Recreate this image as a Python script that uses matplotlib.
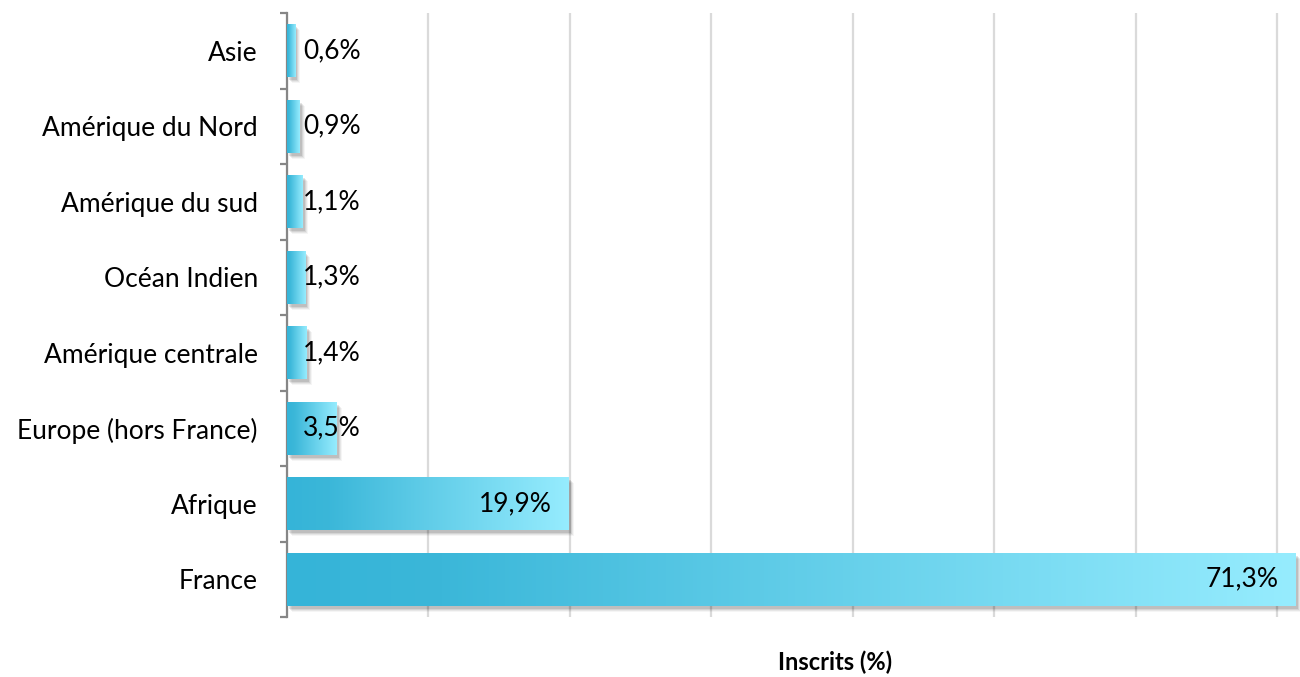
import numpy as np
import matplotlib.pyplot as plt
from matplotlib.colors import LinearSegmentedColormap
from matplotlib.patches import Rectangle
from matplotlib.transforms import ScaledTranslation

# données
regions = ["Asie", "Amérique du Nord", "Amérique du sud", "Océan Indien",
           "Amérique centrale", "Europe (hors France)", "Afrique", "France"]
inscrits = [0.6, 0.9, 1.1, 1.3, 1.4, 3.5, 19.9, 71.3]
labels = ["0,6%", "0,9%", "1,1%", "1,3%", "1,4%", "3,5%", "19,9%", "71,3%"]

plt.rcParams["font.family"] = ["Lato", "DejaVu Sans"]

fig = plt.figure(figsize=(13, 6.77), dpi=100)
ax = fig.add_axes([287 / 1300, 1 - 617 / 677, 1 - 287 / 1300, (617 - 13) / 677])

cmap = LinearSegmentedColormap.from_list(
    "bleu", [(0, "#35b4d8"), (0.15, "#3bb7d9"), (1, "#96ecfe")])
grad = np.linspace(0, 1, 256).reshape(1, -1)
h = 0.70

for i, (v, lab) in enumerate(zip(inscrits, labels)):
    # ombre
    for k, a in enumerate([0.10, 0.08, 0.06, 0.04]):
        off = ScaledTranslation((2 + k) / 100, -(3 + k) / 100, fig.dpi_scale_trans)
        ax.add_patch(Rectangle((0, i - h / 2), v, h, facecolor="black", alpha=a,
                               edgecolor="none", transform=ax.transData + off, zorder=2))
    ax.imshow(grad, cmap=cmap, extent=[0, v, i + h / 2, i - h / 2],
              aspect="auto", zorder=3, interpolation="bilinear")
    if v > 10:
        off = ScaledTranslation(-17 / 100, 0, fig.dpi_scale_trans)
        ax.text(v, i, lab, ha="right", va="center", fontsize=19,
                transform=ax.transData + off, zorder=4)
    else:
        off = ScaledTranslation(16 / 100, 0, fig.dpi_scale_trans)
        ax.text(0, i, lab, ha="left", va="center", fontsize=19,
                transform=ax.transData + off, zorder=4)

ax.set_xlim(0, 71.6)
ax.set_ylim(7.5, -0.5)
ax.set_xticks(np.arange(0, 80, 10))
ax.tick_params(axis="x", length=0, labelbottom=False)
ax.grid(axis="x", color="#dadada", linewidth=1.6, zorder=0)
ax.set_axisbelow(True)

ax.set_yticks(range(len(regions)))
ax.set_yticklabels(regions, fontsize=19)
ax.set_yticks(np.arange(-0.5, 8, 1), minor=True)
ax.tick_params(axis="y", which="major", length=0, pad=21)
ax.tick_params(axis="y", which="minor", length=5, width=1.6, color="#868686")

for s in ["top", "right", "bottom"]:
    ax.spines[s].set_visible(False)
ax.spines["left"].set_color("#868686")
ax.spines["left"].set_linewidth(1.6)

fig.text(835 / 1300, 1 - 662 / 677, "Inscrits (%)", ha="center", va="center",
         fontsize=17, fontweight="bold")

fig.savefig("out.png", dpi=100)
